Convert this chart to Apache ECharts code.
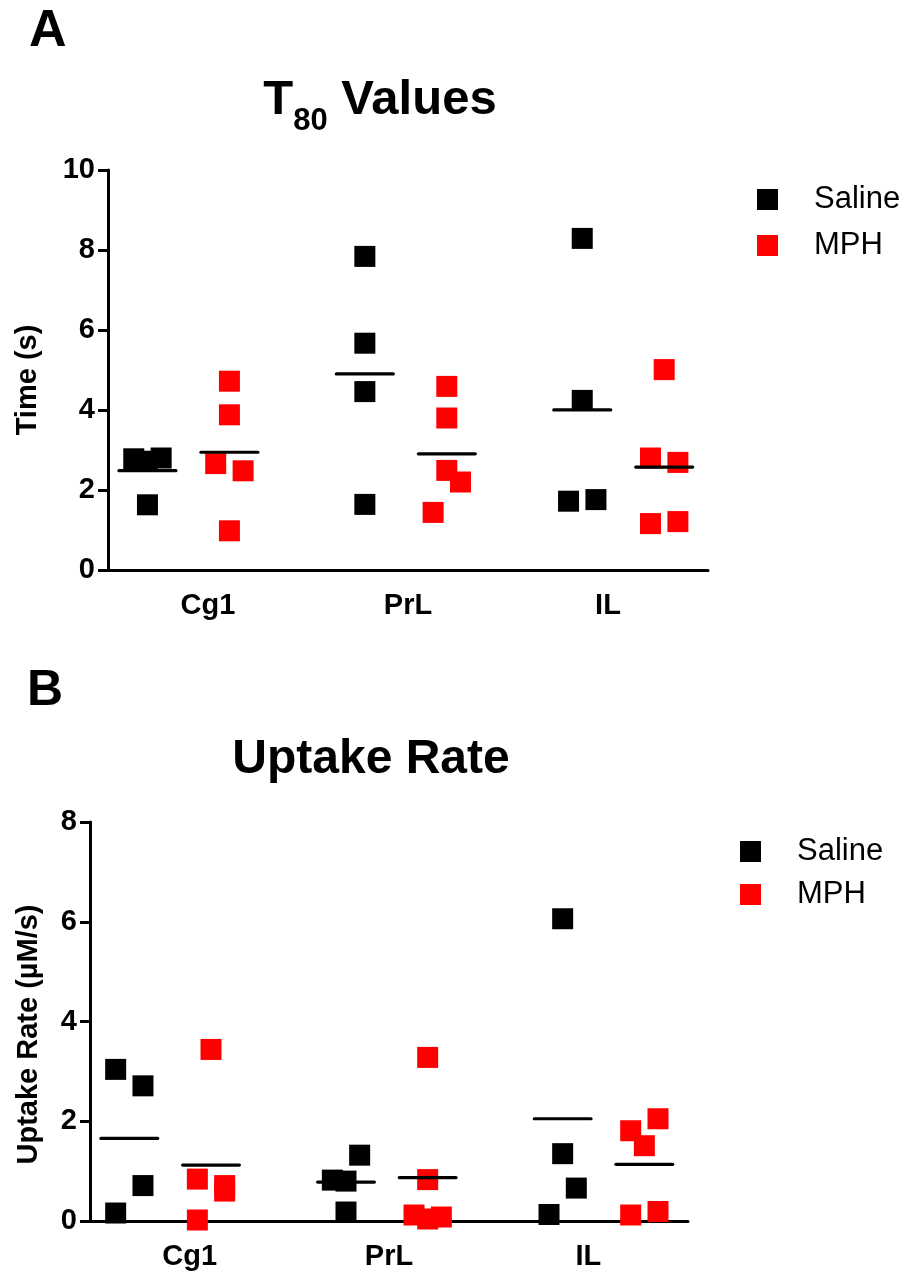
<!DOCTYPE html>
<html>
<head>
<meta charset="utf-8">
<script src="https://cdn.jsdelivr.net/npm/echarts@6/dist/echarts.min.js"></script>
<style>
html,body{margin:0;padding:0;background:#fff;}
#chart{width:907px;height:1274px;}
</style>
</head>
<body>
<div id="chart"></div>
<script>
// ---------- data ----------
const categories = ['Cg1', 'PrL', 'IL'];
const groups = ['Saline', 'MPH'];

// Panel A: T80 values (s), one list per region
const t80Saline = [[2.78, 2.72, 2.80, 1.63], [7.84, 5.67, 4.46, 1.64], [8.29, 4.24, 1.72, 1.76]];
const t80Mph = [[4.72, 3.88, 2.66, 2.48, 0.98], [4.59, 3.80, 2.49, 2.20, 1.44], [5.01, 2.80, 2.69, 1.16, 1.21]];
// scatter slot of each point (-1 left, 0 centre, 1 right), as arranged in the figure
const t80SalineSlot = [[-1, 0, 1, 0], [0, 0, 0, 0], [0, 0, -1, 1]];
const t80MphSlot = [[0, 0, -1, 1, 0], [0, 0, 0, 1, -1], [0, -1, 1, -1, 1]];

// Panel B: uptake rate (uM/s)
const upSaline = [[3.04, 2.71, 0.71, 0.16], [1.32, 0.82, 0.80, 0.18], [6.06, 1.35, 0.66, 0.13]];
const upMph = [[3.44, 0.84, 0.71, 0.60, 0.02], [3.28, 0.83, 0.12, 0.04, 0.08], [2.05, 1.81, 1.51, 0.12, 0.19]];
const upSalineSlot = [[-1, 1, 1, -1], [1, -1, 0, 0], [0, 0, 1, -1]];
const upMphSlot = [[0, -1, 1, 1, -1], [0, 0, -1, 0, 1], [1, -1, 0, -1, 1]];

const yMaxA = 10, yMaxB = 8, yStep = 2;

// ---------- layout / style ----------
const FONT = '"Liberation Sans", Arial, Helvetica, sans-serif';
const GROUP_OFF = 0.1885, SLOT = 0.063, MEAN_HALF = 0.131;
const X_MIN = -0.37, X_MAX = 2.39;
const COLORS = {Saline: '#000000', MPH: '#ff0000'};

function points(vals, slots, side) {
  const out = [];
  vals.forEach((arr, i) => arr.forEach((v, j) => {
    out.push([i + side * GROUP_OFF + slots[i][j] * SLOT, v]);
  }));
  return out;
}
function means(vals, side) {
  return vals.map((arr, i) => [i + side * GROUP_OFF, arr.reduce((a, b) => a + b, 0) / arr.length]);
}
function meanSeries(data, xi, yi) {
  return {
    type: 'custom', xAxisIndex: xi, yAxisIndex: yi, z: 5, silent: true,
    data: data,
    renderItem: function (params, api) {
      const x = api.value(0), y = api.value(1);
      const p1 = api.coord([x - MEAN_HALF, y]);
      const p2 = api.coord([x + MEAN_HALF, y]);
      return {type: 'line', shape: {x1: p1[0], y1: p1[1], x2: p2[0], y2: p2[1]},
        style: {stroke: '#000', lineWidth: 3.2, lineCap: 'round'}};
    }
  };
}
function scatter(name, data, xi, yi) {
  return {name: name, type: 'scatter', xAxisIndex: xi, yAxisIndex: yi, symbol: 'rect',
    symbolSize: 21, itemStyle: {color: COLORS[name], opacity: 1}, data: data, z: 3};
}
const labelBold = {fontFamily: FONT, fontWeight: 'bold', fontSize: 29, color: '#000'};
function yAxis(gi, max, name, gap, shift) {
  return {type: 'value', gridIndex: gi, min: 0, max: max, interval: yStep,
    axisLine: {show: true, onZero: false, lineStyle: {color: '#000', width: 3}},
    axisTick: {show: true, length: 10, lineStyle: {color: '#000', width: 3}},
    axisLabel: Object.assign({margin: 13}, labelBold),
    splitLine: {show: false},
    name: name, nameLocation: 'middle', nameRotate: 90, nameGap: gap,
    nameTextStyle: {fontFamily: FONT, fontWeight: 'bold', fontSize: 29, color: '#000', padding: [0, shift, 0, 0]}};
}
function xValAxis(gi) {
  return {type: 'value', gridIndex: gi, min: X_MIN, max: X_MAX, show: false, splitLine: {show: false}};
}
function xCatAxis(gi) {
  return {type: 'category', gridIndex: gi, data: categories, boundaryGap: true, position: 'bottom',
    axisLine: {show: true, onZero: false, lineStyle: {color: '#000', width: 3}},
    axisTick: {show: false},
    axisLabel: Object.assign({margin: 21}, labelBold)};
}
function legend(top, left, gap) {
  return {data: groups, orient: 'vertical', left: left, top: top, itemGap: gap, padding: 0,
    icon: 'rect', itemWidth: 21, itemHeight: 21, selectedMode: false,
    textStyle: {fontFamily: FONT, fontSize: 31, color: '#000', lineHeight: 30, padding: [0, 0, 0, 31]}};
}

const chart = echarts.init(document.getElementById('chart'), null, {renderer: 'canvas'});
chart.setOption({
  backgroundColor: '#fff',
  animation: false,
  grid: [
    {left: 108, top: 170, width: 600, height: 400, outerBoundsMode: 'none', containLabel: false},
    {left: 90, top: 822, width: 598, height: 399, outerBoundsMode: 'none', containLabel: false}
  ],
  xAxis: [xValAxis(0), xCatAxis(0), xValAxis(1), xCatAxis(1)],
  yAxis: [yAxis(0, yMaxA, 'Time (s)', 66, 20), yAxis(1, yMaxB, 'Uptake Rate (µM/s)', 47, 26)],
  legend: [legend(184, 757, 15), legend(836, 740, 12)],
  series: [
    scatter('Saline', points(t80Saline, t80SalineSlot, -1), 0, 0),
    scatter('MPH', points(t80Mph, t80MphSlot, 1), 0, 0),
    meanSeries(means(t80Saline, -1), 0, 0),
    meanSeries(means(t80Mph, 1), 0, 0),
    scatter('Saline', points(upSaline, upSalineSlot, -1), 2, 1),
    scatter('MPH', points(upMph, upMphSlot, 1), 2, 1),
    meanSeries(means(upSaline, -1), 2, 1),
    meanSeries(means(upMph, 1), 2, 1)
  ],
  graphic: [
    {type: 'text', left: 29, top: 6, style: {text: 'A', fontFamily: FONT, fontWeight: 'bold', fontSize: 52, fill: '#000'}},
    {type: 'text', left: 27, top: 666, style: {text: 'B', fontFamily: FONT, fontWeight: 'bold', fontSize: 50, fill: '#000'}},
    {type: 'text', x: 380, y: 102, style: {
      text: '{t|T}{s|80}{t| Values}', align: 'center', verticalAlign: 'middle',
      rich: {
        t: {fontFamily: FONT, fontWeight: 'bold', fontSize: 49, lineHeight: 52, verticalAlign: 'top', fill: '#000'},
        s: {fontFamily: FONT, fontWeight: 'bold', fontSize: 31, lineHeight: 31, padding: [30, 0, 0, 0], verticalAlign: 'top', fill: '#000'}
      }}},
    {type: 'text', x: 371, y: 760, style: {text: 'Uptake Rate', align: 'center', verticalAlign: 'middle',
      fontFamily: FONT, fontWeight: 'bold', fontSize: 48, fill: '#000'}}
  ]
});
</script>
</body>
</html>
